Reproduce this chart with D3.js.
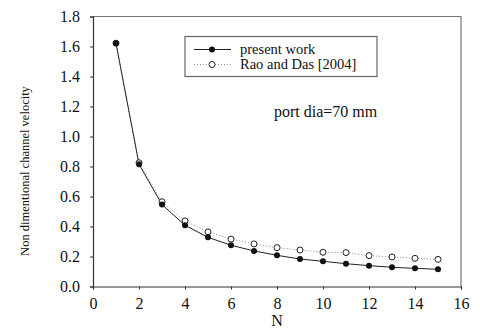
<!DOCTYPE html>
<html><head><meta charset="utf-8">
<script src="https://cdn.jsdelivr.net/npm/d3@7"></script>
<style>body{margin:0;background:#fff}svg{display:block}text{font-family:"Liberation Serif","Times New Roman",serif;fill:#111}</style>
</head><body><svg id="c" width="480" height="334"></svg>
<script>
const N = [1,2,3,4,5,6,7,8,9,10,11,12,13,14,15];
const presentWork = [1.621,0.815,0.546,0.408,0.328,0.275,0.237,0.208,0.183,0.168,0.152,0.139,0.128,0.121,0.115];
const raoDas = [1.622,0.825,0.565,0.437,0.364,0.316,0.284,0.259,0.243,0.228,0.226,0.206,0.197,0.188,0.181];
const xTicks = [0,2,4,6,8,10,12,14,16];
const yTicks = [0,0.2,0.4,0.6,0.8,1.0,1.2,1.4,1.6,1.8];
const legendLabels = ["present work","Rao and Das [2004]"];

const svg = d3.select("#c");
const L=93,R=461,T=16.5,B=286.5;
const x = d3.scaleLinear().domain([0,16]).range([L,R]);
const y = d3.scaleLinear().domain([0,1.8]).range([B,T]);

svg.append("path").attr("d",`M${L},${T}H${R}V${B}`).attr("fill","none").attr("stroke","#777").attr("stroke-width",1.2);

const xa = svg.append("g").attr("transform",`translate(0,${B})`)
  .call(d3.axisBottom(x).tickValues(xTicks).tickSize(3).tickPadding(8).tickFormat(d3.format("d")));
const ya = svg.append("g").attr("transform",`translate(${L},0)`)
  .call(d3.axisLeft(y).tickValues(yTicks).tickSize(3).tickPadding(10).tickFormat(d3.format(".1f")));
[xa,ya].forEach(a=>{
  a.selectAll("path").attr("stroke","#333").attr("stroke-width",1.2);
  a.selectAll("line").attr("stroke","#333");
  a.selectAll("text").style("font-size","16px").attr("fill","#111");
});

svg.append("text").attr("x",(L+R)/2).attr("y",326).attr("text-anchor","middle").style("font-size","16px").text("N");
svg.append("text").attr("transform","translate(29,171) rotate(-90)").attr("text-anchor","middle").style("font-size","12.5px").text("Non dimentional channel velocity");

const line = d3.line().x((d,i)=>x(N[i])).y(d=>y(d));
svg.append("path").datum(raoDas).attr("d",line).attr("fill","none").attr("stroke","#888").attr("stroke-width",1).attr("stroke-dasharray","1,2");
svg.append("path").datum(presentWork).attr("d",line).attr("fill","none").attr("stroke","#222").attr("stroke-width",1);
svg.selectAll(".rao").data(raoDas).join("circle").attr("cx",(d,i)=>x(N[i])).attr("cy",d=>y(d)).attr("r",3)
  .attr("fill","#fff").attr("stroke","#222").attr("stroke-width",1);
svg.selectAll(".pw").data(presentWork).join("circle").attr("cx",(d,i)=>x(N[i])).attr("cy",d=>y(d)).attr("r",3)
  .attr("fill","#111");

svg.append("rect").attr("x",185).attr("y",36.5).attr("width",192).attr("height",40).attr("fill","#fff").attr("stroke","#666").attr("stroke-width",1.2);
const ly=[49.5,64.5];
svg.append("line").attr("x1",194).attr("x2",231).attr("y1",ly[0]).attr("y2",ly[0]).attr("stroke","#222");
svg.append("circle").attr("cx",212).attr("cy",ly[0]).attr("r",3).attr("fill","#111");
svg.append("line").attr("x1",194).attr("x2",231).attr("y1",ly[1]).attr("y2",ly[1]).attr("stroke","#888").attr("stroke-dasharray","1,2");
svg.append("circle").attr("cx",212).attr("cy",ly[1]).attr("r",3).attr("fill","#fff").attr("stroke","#222");
legendLabels.forEach((t,i)=>svg.append("text").attr("x",240).attr("y",ly[i]+4.5).style("font-size","14.5px").text(t));

svg.append("text").attr("x",274).attr("y",117).style("font-size","16px").text("port dia=70 mm");
</script></body></html>
